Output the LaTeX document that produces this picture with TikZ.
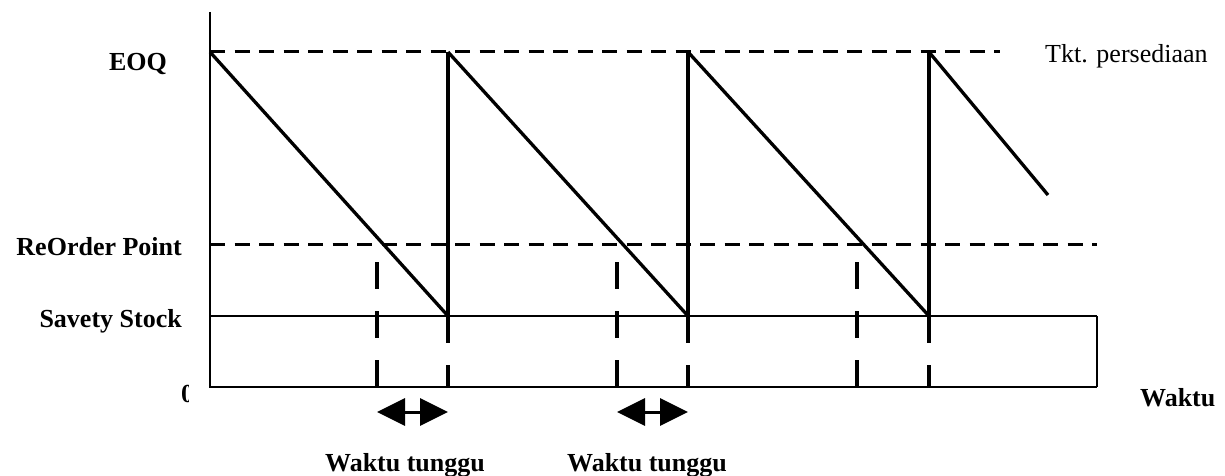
\documentclass[tikz,border=0pt]{standalone}
\usepackage{fontspec}
\setmainfont{Liberation Serif}
\usetikzlibrary{arrows.meta}
\begin{document}
\begin{tikzpicture}[x=1pt,y=-1pt,
  txt/.style={font=\fontsize{26}{30}\selectfont, inner sep=0pt},
  btxt/.style={txt, font=\fontsize{26}{30}\selectfont\bfseries},
  level/.style={line width=3pt, dash pattern=on 15pt off 9.5pt},
  saw/.style={line width=3.3pt, line join=miter},
  rise/.style={line width=4pt},
  lead/.style={line width=4pt, dash pattern=on 27pt off 22pt},
  span/.style={line width=3pt, {Triangle[length=28pt,width=27pt]}-{Triangle[length=28pt,width=27pt]}}]
\useasboundingbox (0,0) rectangle (1225,476);

% key points
\coordinate (top) at (210,12);
\coordinate (o) at (210,387);
\coordinate (xend) at (1097,387);

% axes and safety-stock band
\draw[line width=2.5pt] (top) -- (o) -- (xend);
\draw[line width=1.5pt] (210,316) -- (1097,316);
\draw[line width=2pt] (1097,316) -- (xend);

% EOQ and reorder levels
\draw[level] (210,52) -- (1000,52);
\draw[level] (210,244) -- (1097,244);

% inventory sawtooth: usage slopes and replenishments
\draw[saw] (210,52) -- (448,316);
\draw[saw] (448,52) -- (688,316);
\draw[saw] (688,52) -- (929,316);
\draw[saw] (929,52) -- (1048,195);
\foreach \x in {448,688,929} \draw[rise] (\x,316) -- (\x,52);

% order and arrival markers
\foreach \x in {377,617,857} \draw[lead] (\x,262) -- (\x,387);
\foreach \x in {448,688,929} \draw[lead] (\x,316) -- (\x,387);

% lead-time spans
\coordinate (a1) at (377,412); \coordinate (b1) at (448,412);
\coordinate (a2) at (617,412); \coordinate (b2) at (688,412);
\draw[span] (a1) -- (b1);
\draw[span] (a2) -- (b2);

% labels
\node[btxt, anchor=base east] (eoq) at (167,71) {EOQ};
\node[btxt, anchor=base east] (rop) at (182,255) {ReOrder Point};
\node[btxt, anchor=base east] (ss) at (182,327) {Savety Stock};
\begin{scope}
  \clip (170,370) rectangle (188,410);
  \node[btxt, anchor=base west] (zero) at (181,402) {0};
\end{scope}
\node[btxt, anchor=base west] (wkt) at (1140,406) {Waktu};
\node[txt, anchor=base west] (tkt) at (1045,63) {Tkt. persediaan};
\node[btxt, anchor=base west] (wt1) at (325,471) {Waktu tunggu};
\node[btxt, anchor=base west] (wt2) at (567,471) {Waktu tunggu};
\end{tikzpicture}
\end{document}
